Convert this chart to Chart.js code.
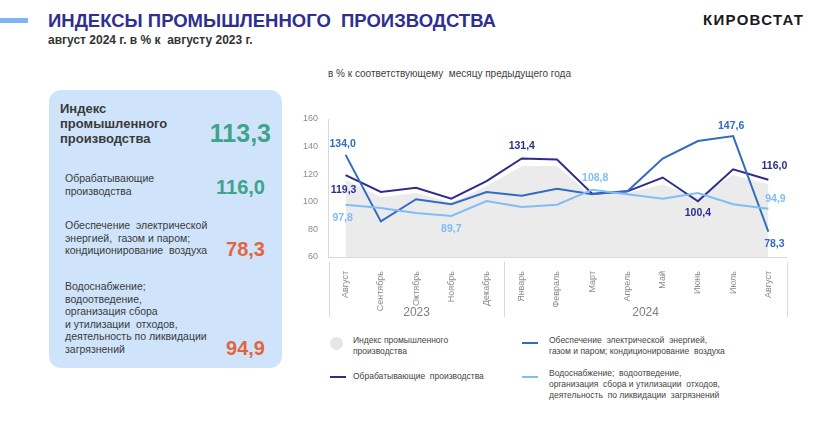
<!DOCTYPE html>
<html lang="ru">
<head>
<meta charset="utf-8">
<script src="https://cdn.jsdelivr.net/npm/chart.js@4"></script>
<style>
  body { margin: 0; width: 832px; height: 432px; background: #fff; font-family: "Liberation Sans", Arial, sans-serif; position: relative; overflow: hidden; }
  .abs { position: absolute; }
  #bar { left: 0; top: 18px; width: 28px; height: 5px; background: #7db6f2; }
  #title { left: 48px; top: 10px; font-size: 18.5px; font-weight: bold; color: #2f2f8f; white-space: nowrap; }
  #sub { left: 48px; top: 33px; font-size: 12px; font-weight: bold; color: #333; white-space: nowrap; }
  #brand { left: 703px; top: 11px; font-size: 15px; font-weight: bold; color: #1a1a1a; letter-spacing: 1.3px; }
  #note { left: 328px; top: 68px; font-size: 10px; color: #404040; white-space: nowrap; }
  #panel { left: 49px; top: 90px; width: 233px; height: 278px; background: #cfe4fb; border-radius: 12px; }
  .pl { color: #3a3a3a; font-size: 10.5px; line-height: 12.5px; }
  .big { font-weight: bold; }
  .green { color: #3fa28a; }
  .orange { color: #e2653f; }
  .lg { font-size: 8.5px; color: #444; line-height: 11px; white-space: nowrap; }
  .lline { height: 2px; width: 16px; }
  #chartBox { left: 288px; top: 102px; width: 520px; height: 230px; }
</style>
</head>
<body>
<div class="abs" id="bar"></div>
<div class="abs" id="title">ИНДЕКСЫ ПРОМЫШЛЕННОГО&nbsp; ПРОИЗВОДСТВА</div>
<div class="abs" id="sub">август 2024 г. в % к&nbsp; августу 2023 г.</div>
<div class="abs" id="brand">КИРОВСТАТ</div>
<div class="abs" id="note">в % к соответствующему&nbsp; месяцу предыдущего года</div>

<div class="abs" id="panel"></div>
<div class="abs pl big" style="left:60px;top:101px;font-size:13px;line-height:15px;">Индекс<br>промышленного<br>производства</div>
<div class="abs big green" style="right:561px;top:119px;font-size:25px;">113,3</div>
<div class="abs pl" style="left:65px;top:172px;">Обрабатывающие<br>производства</div>
<div class="abs big green" style="right:567px;top:176px;font-size:20px;">116,0</div>
<div class="abs pl" style="left:65px;top:219px;">Обеспечение&nbsp; электрической<br>энергией,&nbsp; газом и паром;<br>кондиционирование&nbsp; воздуха</div>
<div class="abs big orange" style="right:567px;top:238px;font-size:20px;">78,3</div>
<div class="abs pl" style="left:65px;top:280px;">Водоснабжение;<br>водоотведение,<br>организация сбора<br>и утилизации&nbsp; отходов,<br>деятельность по ликвидации<br>загрязнений</div>
<div class="abs big orange" style="right:567px;top:337px;font-size:20px;">94,9</div>

<div class="abs" style="left:330px;top:337px;width:13px;height:13px;border-radius:50%;background:#e6e6e6;"></div>
<div class="abs lg" style="left:353px;top:335px;">Индекс промышленного<br>производства</div>
<div class="abs lline" style="left:522px;top:342px;background:#2f6cc2;"></div>
<div class="abs lg" style="left:549px;top:335px;">Обеспечение&nbsp; электрической&nbsp; энергией,<br>газом и паром; кондиционирование&nbsp; воздуха</div>
<div class="abs lline" style="left:330px;top:376px;background:#2e2d8c;"></div>
<div class="abs lg" style="left:353px;top:371px;">Обрабатывающие&nbsp; производства</div>
<div class="abs lline" style="left:522px;top:376px;background:#7fbdf7;"></div>
<div class="abs lg" style="left:549px;top:368px;">Водоснабжение;&nbsp; водоотведение,<br>организация&nbsp; сбора и утилизации&nbsp; отходов,<br>деятельность&nbsp; по ликвидации&nbsp; загрязнений</div>

<div class="abs" id="chartBox"><canvas id="chart" width="520" height="230"></canvas></div>

<script>
const months = ['Август', 'Сентябрь', 'Октябрь', 'Ноябрь', 'Декабрь', 'Январь', 'Февраль', 'Март', 'Апрель', 'Май', 'Июнь', 'Июль', 'Август'];
const years = ['2023', '2024'];
const yearStart = [0, 5];
const industry = [116.5, 104, 107, 100, 112, 126.5, 126.5, 105, 107, 113, 104, 120, 113.3];
const manufacturing = [119.3, 107.1, 110.2, 102.3, 115.0, 131.4, 130.6, 105.9, 107.6, 117.6, 100.4, 123.5, 116.0];
const energy = [134.0, 85.8, 101.9, 98.2, 107.1, 104.4, 109.5, 105.4, 107.6, 131.3, 144.0, 147.6, 78.3];
const water = [97.8, 95.5, 91.9, 89.7, 100.6, 96.2, 97.9, 108.8, 105.4, 102.3, 106.4, 98.2, 94.9];

const fmt = v => v.toFixed(1).replace('.', ',');

// which points get a value label, and where it sits relative to the point
const pointLabels = [
    { ds: 1, i: 0, dx: -2, dy: 15 },
    { ds: 1, i: 5, dx: 0, dy: -12 },
    { ds: 1, i: 10, dx: 0, dy: 12 },
    { ds: 1, i: 12, dx: 6, dy: -14 },
    { ds: 2, i: 0, dx: -3, dy: -11 },
    { ds: 2, i: 11, dx: -2, dy: -10 },
    { ds: 2, i: 12, dx: 6, dy: 12 },
    { ds: 3, i: 0, dx: -3, dy: 13 },
    { ds: 3, i: 3, dx: 0, dy: 13 },
    { ds: 3, i: 7, dx: 3, dy: -12 },
    { ds: 3, i: 12, dx: 7, dy: -10 }
];

const labelPlugin = {
    id: 'pointLabels',
    afterDatasetsDraw(chart) {
        const ctx = chart.ctx;
        ctx.save();
        ctx.font = 'bold 10.5px "Liberation Sans", Arial, sans-serif';
        ctx.textAlign = 'center';
        ctx.textBaseline = 'middle';
        pointLabels.forEach(p => {
            const ds = chart.data.datasets[p.ds];
            const el = chart.getDatasetMeta(p.ds).data[p.i];
            ctx.fillStyle = ds.borderColor;
            ctx.fillText(fmt(ds.data[p.i]), el.x + p.dx, el.y + p.dy);
        });
        ctx.restore();
    }
};

const yearPlugin = {
    id: 'yearRow',
    afterDraw(chart) {
        const ctx = chart.ctx;
        const x = chart.scales.x;
        const area = chart.chartArea;
        const step = x.getPixelForValue(1) - x.getPixelForValue(0);
        const edges = [area.left + 1];
        yearStart.slice(1).forEach(i => edges.push(x.getPixelForValue(i) - step / 2));
        edges.push(area.right + 1);
        ctx.save();
        ctx.strokeStyle = '#d9d9d9';
        ctx.lineWidth = 1;
        edges.forEach(e => {
            ctx.beginPath();
            ctx.moveTo(Math.round(e) + 0.5, area.bottom + 5);
            ctx.lineTo(Math.round(e) + 0.5, area.bottom + 60);
            ctx.stroke();
        });
        ctx.fillStyle = '#7f7f7f';
        ctx.font = '12px "Liberation Sans", Arial, sans-serif';
        ctx.textAlign = 'center';
        ctx.textBaseline = 'middle';
        years.forEach((y, k) => ctx.fillText(y, (edges[k] + edges[k + 1]) / 2, area.bottom + 56));
        ctx.restore();
    }
};

new Chart(document.getElementById('chart'), {
    type: 'line',
    data: {
        labels: months,
        datasets: [
            { label: 'Индекс промышленного производства', data: industry, fill: 'start', backgroundColor: '#ebebeb', borderColor: '#ffffff', borderWidth: 1.5, pointRadius: 0, order: 10 },
            { label: 'Обрабатывающие производства', data: manufacturing, fill: false, borderColor: '#2e2d8c', borderWidth: 2, pointRadius: 0, order: 3 },
            { label: 'Обеспечение электрической энергией', data: energy, fill: false, borderColor: '#2f6cc2', borderWidth: 2, pointRadius: 0, order: 2 },
            { label: 'Водоснабжение', data: water, fill: false, borderColor: '#7fbdf7', borderWidth: 2, pointRadius: 0, order: 1 }
        ]
    },
    options: {
        responsive: false,
        animation: false,
        layout: { padding: { top: 17, right: 22, left: 0, bottom: 0 } },
        plugins: { legend: { display: false }, tooltip: { enabled: false } },
        scales: {
            x: {
                offset: true,
                grid: { display: false },
                border: { display: true, color: '#d9d9d9' },
                ticks: { minRotation: 90, maxRotation: 90, padding: 6, color: '#8c8c8c', font: { size: 9, family: '"Liberation Sans", Arial' } },
                afterFit: s => { s.height = 75; }
            },
            y: {
                min: 60,
                max: 160,
                grid: { display: false },
                border: { display: true, color: '#d9d9d9' },
                ticks: { stepSize: 20, padding: 2, color: '#8c8c8c', font: { size: 9, family: '"Liberation Sans", Arial' } },
                afterFit: s => { s.width = 40; }
            }
        }
    },
    plugins: [labelPlugin, yearPlugin]
});
</script>
</body>
</html>
